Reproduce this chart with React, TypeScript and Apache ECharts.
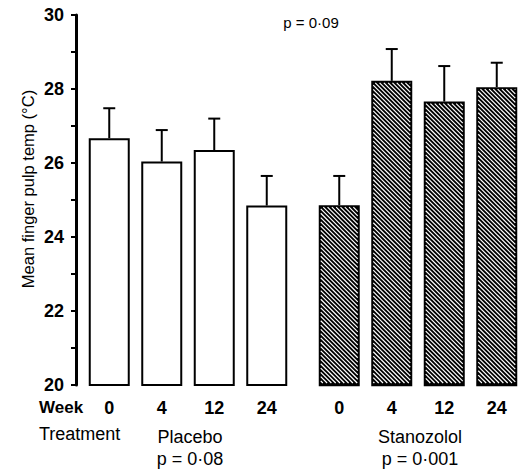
import React, { useEffect, useRef } from "react";
import * as echarts from "echarts";

const weeks = ["0", "4", "12", "24"];
const placeboMean = [26.67, 26.04, 26.35, 24.85];
const placeboErrTop = [27.48, 26.89, 27.2, 25.65];
const stanozololMean = [24.86, 28.22, 27.66, 28.05];
const stanozololErrTop = [25.65, 29.08, 28.62, 28.71];
const yTicks = [20, 22, 24, 26, 28, 30];

const FONT = "'Liberation Sans', Arial, Helvetica, sans-serif";
const BAR_W = 41;
const Y_MIN = 20;
const Y_MAX = 30;

function errorSeries(xIdx: number, means: number[], tops: number[]) {
  return {
    type: "custom",
    xAxisIndex: xIdx,
    yAxisIndex: xIdx,
    data: means.map((m, i) => [i, m, tops[i]]),
    encode: { x: 0, y: [1, 2] },
    z: 1,
    renderItem: (params: any, api: any) => {
      const x = api.value(0);
      const lo = api.coord([x, api.value(1)]);
      const hi = api.coord([x, api.value(2)]);
      const half = 6;
      const style = { stroke: "#000", lineWidth: 2 };
      return {
        type: "group",
        children: [
          { type: "line", shape: { x1: lo[0], y1: lo[1], x2: hi[0], y2: hi[1] }, style },
          { type: "line", shape: { x1: hi[0] - half, y1: hi[1], x2: hi[0] + half, y2: hi[1] }, style },
        ],
      };
    },
  };
}

function hatchSeries(xIdx: number, means: number[]) {
  return {
    type: "custom",
    xAxisIndex: xIdx,
    yAxisIndex: xIdx,
    data: means.map((m, i) => [i, m]),
    encode: { x: 0, y: 1 },
    z: 3,
    silent: true,
    renderItem: (params: any, api: any) => {
      const top = api.coord([api.value(0), api.value(1)]);
      const base = api.coord([api.value(0), Y_MIN]);
      const inset = 2;
      const x0 = top[0] - BAR_W / 2 + inset;
      const x1 = top[0] + BAR_W / 2 - inset;
      const y0 = top[1] + inset;
      const y1 = base[1] - inset;
      const s = 4.3;
      const children: any[] = [];
      const cMin = x0 - y1;
      const cMax = x1 - y0;
      for (let c = Math.ceil(cMin / s) * s; c <= cMax; c += s) {
        const xa = Math.max(x0, y0 + c);
        const xb = Math.min(x1, y1 + c);
        if (xb - xa > 0.3) {
          children.push({
            type: "line",
            shape: { x1: xa, y1: xa - c, x2: xb, y2: xb - c },
            style: { stroke: "#fff", lineWidth: 1.2 },
          });
        }
      }
      return { type: "group", children };
    },
  };
}

export default function App() {
  const ref = useRef<HTMLDivElement>(null);
  useEffect(() => {
    document.body.style.margin = "0";
    const chart = echarts.init(ref.current!, null, { renderer: "svg" });
    const xAxisCommon = {
      type: "category",
      data: weeks,
      axisLine: { show: false },
      axisTick: { show: false },
      axisLabel: { fontFamily: FONT, fontSize: 18, fontWeight: "bold", color: "#000", margin: 14 },
    };
    chart.setOption({
      animation: false,
      backgroundColor: "#fff",
      grid: [
        { left: 83, width: 210, top: 15, bottom: 87 },
        { left: 313, width: 210, top: 15, bottom: 87 },
      ],
      xAxis: [
        { ...xAxisCommon, gridIndex: 0 },
        { ...xAxisCommon, gridIndex: 1 },
      ],
      yAxis: [
        {
          type: "value",
          gridIndex: 0,
          min: Y_MIN,
          max: Y_MAX,
          interval: 1,
          offset: 7,
          splitLine: { show: false },
          axisLine: { show: true, lineStyle: { color: "#000", width: 3 } },
          axisTick: { show: true, length: 5, lineStyle: { color: "#000", width: 2 } },
          axisLabel: {
            fontFamily: FONT,
            fontSize: 18,
            fontWeight: "bold",
            color: "#000",
            margin: 12,
            formatter: (v: number) => (yTicks.includes(v) ? String(v) : ""),
          },
        },
        {
          type: "value",
          gridIndex: 1,
          min: Y_MIN,
          max: Y_MAX,
          show: false,
          splitLine: { show: false },
        },
      ],
      series: [
        {
          type: "bar",
          xAxisIndex: 0,
          yAxisIndex: 0,
          data: placeboMean,
          barWidth: BAR_W,
          z: 2,
          itemStyle: { color: "#fff", borderColor: "#000", borderWidth: 2 },
        },
        {
          type: "bar",
          xAxisIndex: 1,
          yAxisIndex: 1,
          data: stanozololMean,
          barWidth: BAR_W,
          z: 2,
          itemStyle: { color: "#000", borderColor: "#000", borderWidth: 2.5 },
        },
        hatchSeries(1, stanozololMean),
        errorSeries(0, placeboMean, placeboErrTop),
        errorSeries(1, stanozololMean, stanozololErrTop),
      ],
      graphic: [
        {
          type: "text",
          x: 28,
          y: 189,
          rotation: Math.PI / 2,
          style: { text: "Mean finger pulp temp (\u00B0C)", fontFamily: FONT, fontSize: 16.5, fill: "#000", align: "center", verticalAlign: "middle" },
        },
        { type: "text", left: 39, top: 399, style: { text: "Week", fontFamily: FONT, fontSize: 17, fontWeight: "bold", fill: "#000" } },
        { type: "text", left: 39, top: 425, style: { text: "Treatment", fontFamily: FONT, fontSize: 18, fill: "#000" } },
        { type: "text", x: 190, y: 437, style: { text: "Placebo", fontFamily: FONT, fontSize: 18, fill: "#000", align: "center", verticalAlign: "middle" } },
        { type: "text", x: 190, y: 459, style: { text: "p = 0\u00B708", fontFamily: FONT, fontSize: 18, fill: "#000", align: "center", verticalAlign: "middle" } },
        { type: "text", x: 420, y: 437, style: { text: "Stanozolol", fontFamily: FONT, fontSize: 18, fill: "#000", align: "center", verticalAlign: "middle" } },
        { type: "text", x: 420, y: 459, style: { text: "p = 0\u00B7001", fontFamily: FONT, fontSize: 18, fill: "#000", align: "center", verticalAlign: "middle" } },
        { type: "text", x: 311, y: 22, style: { text: "p = 0\u00B709", fontFamily: FONT, fontSize: 15, fill: "#000", align: "center", verticalAlign: "middle" } },
      ],
    });
    return () => chart.dispose();
  }, []);
  return <div ref={ref} style={{ width: 528, height: 472, position: "absolute", left: 0, top: 0 }} />;
}
